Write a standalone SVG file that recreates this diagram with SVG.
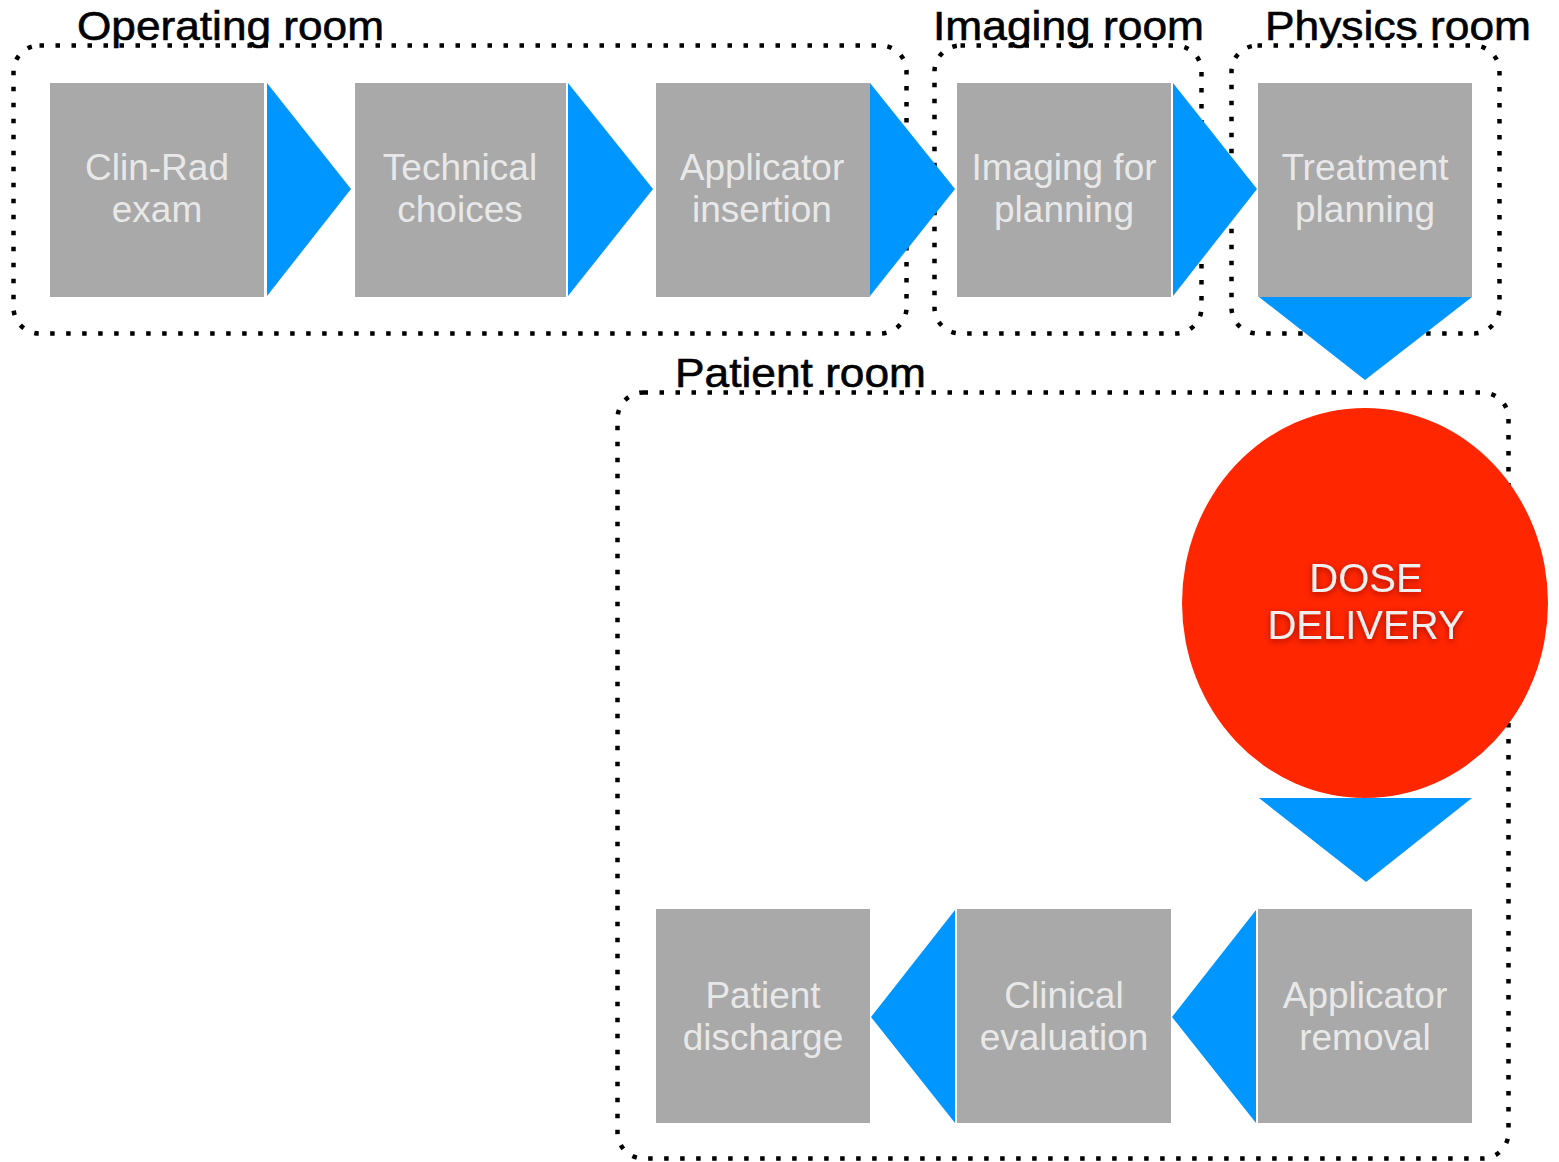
<svg xmlns="http://www.w3.org/2000/svg" width="1559" height="1162" viewBox="0 0 1559 1162">
<style>
.room{fill:none;stroke:#000;stroke-width:4.5;stroke-dasharray:4.5 11.5}
.rlabel{font-family:"Liberation Sans",Arial,Helvetica,sans-serif;font-size:41px;fill:#000;stroke:#000;stroke-width:0.6}
.box{fill:#a9a9a9}
.btxt{font-family:"Liberation Sans",Arial,Helvetica,sans-serif;font-size:37px;fill:#e8e8e8;text-anchor:middle}
.arr{fill:#0096ff}
.dose{font-family:"Liberation Sans",Arial,Helvetica,sans-serif;font-size:40px;fill:#efefef;text-anchor:middle}
</style>
<defs>
<filter id="sh" x="-20%" y="-40%" width="140%" height="180%">
<feDropShadow dx="0" dy="2" stdDeviation="3" flood-color="#7a0000" flood-opacity="0.7"/>
</filter>
</defs>
<rect width="1559" height="1162" fill="#fff"/>
<g id="rooms">
<g id="operating-room">
<rect class="room" x="13.5" y="45.5" width="893" height="288" rx="26"/>
<text class="rlabel" x="77" y="40" textLength="307" lengthAdjust="spacingAndGlyphs">Operating room</text>
</g>
<g id="imaging-room">
<rect class="room" x="934.5" y="45.5" width="267" height="288" rx="26"/>
<text class="rlabel" x="933" y="40" textLength="271" lengthAdjust="spacingAndGlyphs">Imaging room</text>
</g>
<g id="physics-room">
<rect class="room" x="1231.5" y="45.5" width="268" height="288" rx="26"/>
<text class="rlabel" x="1265" y="40" textLength="266" lengthAdjust="spacingAndGlyphs">Physics room</text>
</g>
<g id="patient-room">
<rect class="room" x="617.5" y="392.5" width="891" height="766" rx="26"/>
<text class="rlabel" x="675" y="387" textLength="251" lengthAdjust="spacingAndGlyphs">Patient room</text>
</g>
</g>
<g id="nodes">
<g id="clin-rad-exam">
<rect class="box" x="50" y="83" width="214" height="214"/>
<text class="btxt" x="157" y="180">Clin-Rad</text>
<text class="btxt" x="157" y="222">exam</text>
</g>
<g id="technical-choices">
<rect class="box" x="355" y="83" width="211" height="214"/>
<text class="btxt" x="460" y="180">Technical</text>
<text class="btxt" x="460" y="222">choices</text>
</g>
<g id="applicator-insertion">
<rect class="box" x="656" y="83" width="214" height="214"/>
<text class="btxt" x="762" y="180">Applicator</text>
<text class="btxt" x="762" y="222">insertion</text>
</g>
<g id="imaging-for-planning">
<rect class="box" x="957" y="83" width="214" height="214"/>
<text class="btxt" x="1064" y="180">Imaging for</text>
<text class="btxt" x="1064" y="222">planning</text>
</g>
<g id="treatment-planning">
<rect class="box" x="1258" y="83" width="214" height="214"/>
<text class="btxt" x="1365" y="180">Treatment</text>
<text class="btxt" x="1365" y="222">planning</text>
</g>
<g id="dose-delivery">
<ellipse cx="1365" cy="603" rx="183" ry="195" fill="#ff2600"/>
<g filter="url(#sh)">
<text class="dose" x="1366" y="592">DOSE</text>
<text class="dose" x="1366" y="639">DELIVERY</text>
</g>
</g>
<g id="applicator-removal">
<rect class="box" x="1258" y="909" width="214" height="214"/>
<text class="btxt" x="1365" y="1008">Applicator</text>
<text class="btxt" x="1365" y="1050">removal</text>
</g>
<g id="clinical-evaluation">
<rect class="box" x="957" y="909" width="214" height="214"/>
<text class="btxt" x="1064" y="1008">Clinical</text>
<text class="btxt" x="1064" y="1050">evaluation</text>
</g>
<g id="patient-discharge">
<rect class="box" x="656" y="909" width="214" height="214"/>
<text class="btxt" x="763" y="1008">Patient</text>
<text class="btxt" x="763" y="1050">discharge</text>
</g>
</g>
<g id="connectors">
<polygon class="arr" points="267,83 351,189 267,296"/>
<polygon class="arr" points="568,83 653,189 568,296"/>
<polygon class="arr" points="870,83 955,189 870,296"/>
<polygon class="arr" points="1173,83 1257,189 1173,296"/>
<polygon class="arr" points="1259,297 1472,297 1365,380"/>
<polygon class="arr" points="1259,798 1472,798 1366,882"/>
<polygon class="arr" points="1256,910 1172,1017 1256,1123"/>
<polygon class="arr" points="955,910 871,1017 955,1123"/>
</g>
</svg>
